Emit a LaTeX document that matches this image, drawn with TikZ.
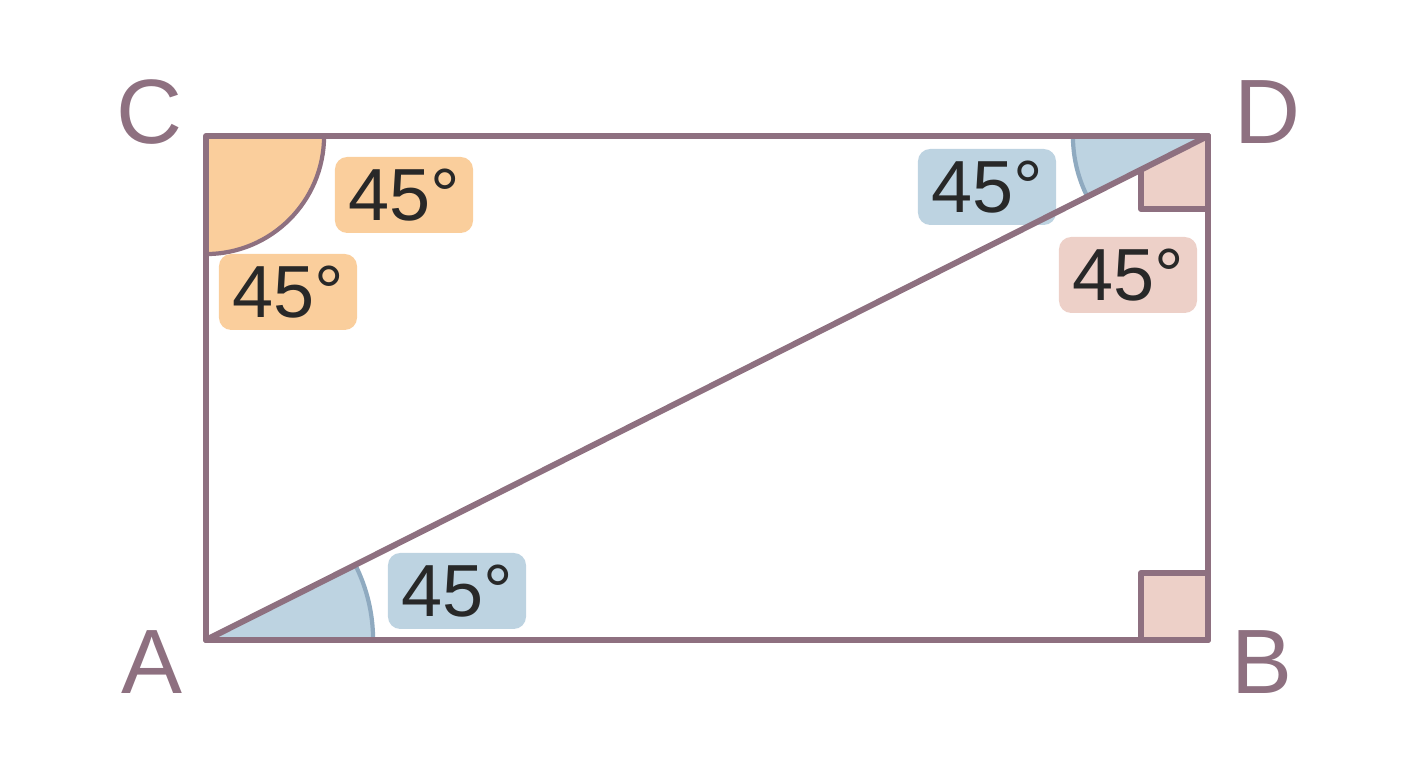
\documentclass[tikz,border=0pt]{standalone}
\usepackage{fontspec}
\setmainfont{Liberation Sans}
\usepackage{xcolor}
\usetikzlibrary{angles}
\definecolor{edgecol}{RGB}{142,112,128}
\definecolor{orangefill}{RGB}{250,206,156}
\definecolor{bluefill}{RGB}{189,211,225}
\definecolor{bluearc}{RGB}{143,170,192}
\definecolor{pinkfill}{RGB}{237,208,200}
\definecolor{ink}{RGB}{40,40,40}

\begin{document}
\begin{tikzpicture}[x=0.01cm, y=0.01cm,
    side/.style={draw=edgecol, line width=1.7pt, line join=round, line cap=round},
    tag/.style={rounded corners=3.5pt, minimum width=1.38cm, minimum height=0.76cm, inner sep=0pt, text=ink, font=\fontsize{21}{21}\selectfont},
    vertex/.style={text=edgecol, font=\fontsize{26}{26}\selectfont}]
            \useasboundingbox (0,0) rectangle (1408,768);

            \coordinate (A) at (206,128);
            \coordinate (B) at (1208,128);
            \coordinate (C) at (206,632);
            \coordinate (D) at (1208,632);

            % right angles
            \draw[side, fill=pinkfill] (1141,559) rectangle (D);
            \draw[side, fill=pinkfill] (1141,128) rectangle (1208,195);

            % angle sectors
            \pic[fill=orangefill, draw=edgecol, line width=1.2pt, angle radius=1.18cm] {angle = A--C--D};
            \pic[fill=bluefill, draw=bluearc, line width=1.2pt, angle radius=1.67cm] {angle = B--A--D};
            \pic[fill=bluefill, draw=bluearc, line width=1.2pt, angle radius=1.35cm] {angle = C--D--A};

            % labels
            \node[tag, fill=orangefill] (Ctop) at (404,573) {45°};
            \node[tag, fill=orangefill] (Cleft) at (288,476) {45°};
            \node[tag, fill=bluefill] (Dtop) at (987,581) {45°};
            \node[tag, fill=pinkfill] (Dright) at (1128,493) {45°};
            \node[tag, fill=bluefill] (Aangle) at (457,177) {45°};

            \draw[side] (A) -- (B) -- (D) -- (C) -- cycle;
            \draw[side] (A) -- (D);

            \node[vertex] (labelC) at (150,656) {C};
            \node[vertex] (labelD) at (1268,656) {D};
            \node[vertex] (labelA) at (152,106) {A};
            \node[vertex] (labelB) at (1262,106) {B};

        \end{tikzpicture}
\end{document}
